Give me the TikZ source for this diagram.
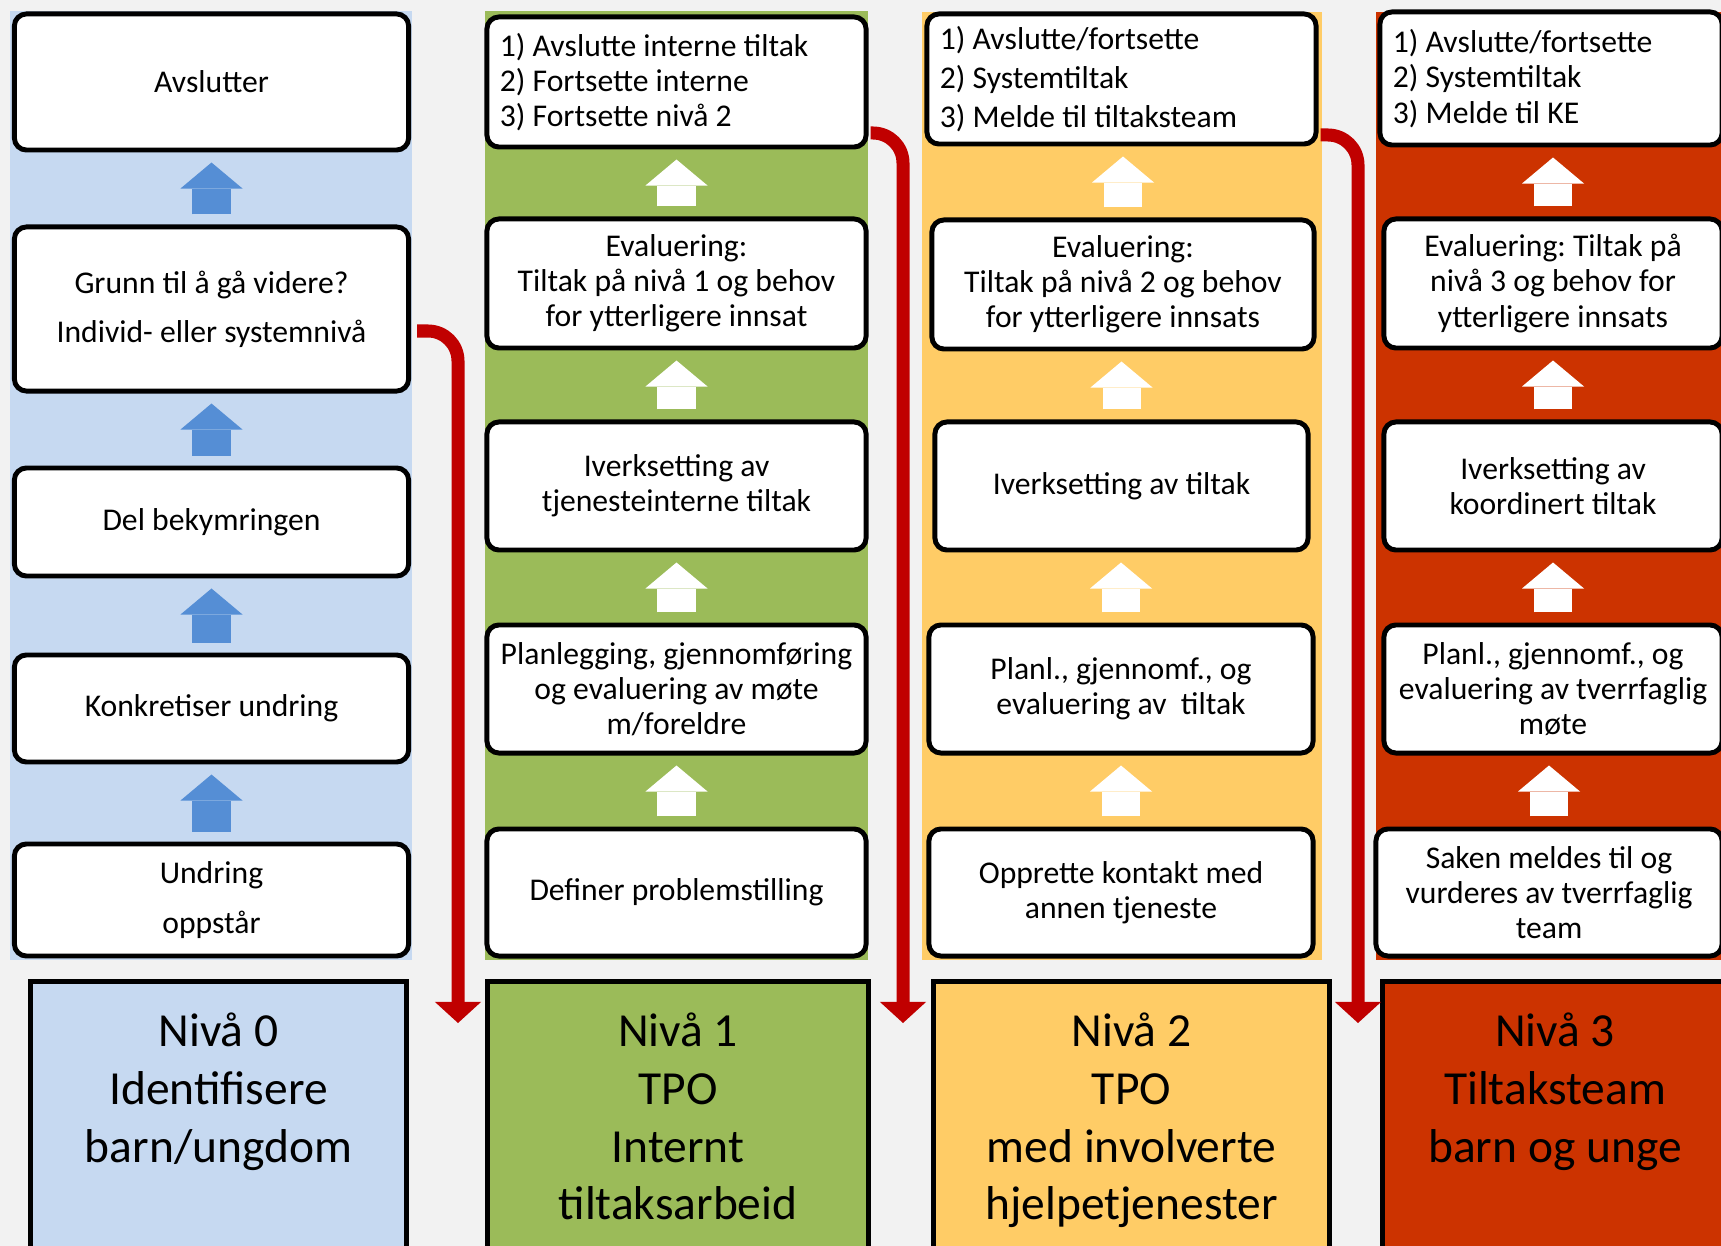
\documentclass[tikz,border=0pt]{standalone}
\usepackage{fontspec}
\setmainfont{Carlito}
\usetikzlibrary{arrows.meta,calc}
\frenchspacing

\definecolor{pagegray}{HTML}{F2F2F2}
\definecolor{stripeblue}{HTML}{C6D9F1}
\definecolor{arrowblue}{HTML}{558ED5}
\definecolor{stripegreen}{HTML}{9BBB59}
\definecolor{stripeyellow}{HTML}{FFCC66}
\definecolor{stripered}{HTML}{CC3300}
\definecolor{jumpred}{HTML}{C00000}

\tikzset{
  stepnode/.style={draw, line width=1.4pt, rounded corners=1.2mm, fill=white,
    align=center, inner sep=0pt, font=\fontsize{9}{10}\selectfont},
  listnode/.style={stepnode, align=flush left, inner xsep=1.3mm},
  levelbox/.style={draw, line width=1.4pt, minimum height=3.18cm},
  leveltxt/.style={align=center, anchor=north, inner sep=0pt,
    font=\fontsize{13.5}{16.4}\selectfont},
  uparr/.style={draw=#1, line width=3.8mm, shorten <=1mm, shorten >=1mm,
    -{Triangle[width=6.2mm,length=2.6mm,line width=0pt]}},
  jumpline/.style={draw=jumpred, line width=1.3mm, rounded corners=3mm,
    -{Triangle[width=4.6mm,length=2.1mm,line width=0pt]}}
}

\begin{document}
\begin{tikzpicture}[x=0.01cm, y=-0.01cm]
  % Page
  \fill [pagegray] (0,0) rectangle (1721,1246);
  \useasboundingbox (0,0) rectangle (1721,1246);
  \clip (0,0) rectangle (1721,1246);

  % Column stripes
  \fill [stripeblue] (10,11) rectangle (412,960);
  \fill [stripegreen] (485,11) rectangle (868,960);
  \fill [stripeyellow] (922,12) rectangle (1322,960);
  \fill [stripered] (1376,12) rectangle (1721,960);

  % Niva 0
  \node (a0) [stepnode, minimum width=3.94cm, minimum height=1.36cm] at (211.5,82) {Avslutter};
  \node (g0) [stepnode, minimum width=3.94cm, minimum height=1.64cm] at (211.5,309)
    {Grunn til å gå videre?\\[4pt]Individ- eller systemnivå};
  \node (d0) [stepnode, minimum width=3.94cm, minimum height=1.08cm] at (211.5,522) {Del bekymringen};
  \node (k0) [stepnode, minimum width=3.94cm, minimum height=1.07cm] at (211.5,708.5) {Konkretiser undring};
  \node (u0) [stepnode, minimum width=3.94cm, minimum height=1.12cm] at (211.5,900) {Undring\\[4pt]oppstår};

  % Niva 1
  \node (t1) [listnode, text width=3.53cm, minimum height=1.30cm] at (676.5,82)
    {1) Avslutte interne tiltak\\2) Fortsette interne\\3) Fortsette nivå 2};
  \node (e1) [stepnode, minimum width=3.79cm, minimum height=1.29cm] at (676.5,283.5)
    {Evaluering:\\Tiltak på nivå 1 og behov\\for ytterligere innsat};
  \node (i1) [stepnode, minimum width=3.79cm, minimum height=1.28cm] at (676.5,486)
    {Iverksetting av\\tjenesteinterne tiltak};
  \node (p1) [stepnode, minimum width=3.79cm, minimum height=1.28cm] at (676.5,689)
    {Planlegging, gjennomføring\\og evaluering av møte\\m/foreldre};
  \node (f1) [stepnode, minimum width=3.79cm, minimum height=1.27cm] at (676.5,892.5)
    {Definer problemstilling};

  % Niva 2
  \node (t2) [listnode, text width=3.63cm, minimum height=1.30cm] at (1121.5,79)
    {1) Avslutte/fortsette\\[1pt]2) Systemtiltak\\[1pt]3) Melde til tiltaksteam};
  \node (e2) [stepnode, minimum width=3.82cm, minimum height=1.29cm] at (1123,284.5)
    {Evaluering:\\Tiltak på nivå 2 og behov\\for ytterligere innsats};
  \node (i2) [stepnode, minimum width=3.73cm, minimum height=1.28cm] at (1121.5,486)
    {Iverksetting av tiltak};
  \node (p2) [stepnode, minimum width=3.84cm, minimum height=1.28cm] at (1121,689)
    {Planl., gjennomf., og\\evaluering av\ \ tiltak};
  \node (o2) [stepnode, minimum width=3.84cm, minimum height=1.27cm] at (1121,892.5)
    {Opprette kontakt med\\annen tjeneste};

  % Niva 3
  \node (t3) [listnode, text width=3.16cm, minimum height=1.33cm] at (1551,78.5)
    {1) Avslutte/fortsette\\2) Systemtiltak\\3) Melde til KE};
  \node (e3) [stepnode, minimum width=3.38cm, minimum height=1.29cm] at (1553,283.5)
    {Evaluering: Tiltak på\\nivå 3 og behov for\\ytterligere innsats};
  \node (i3) [stepnode, minimum width=3.38cm, minimum height=1.28cm] at (1553,486)
    {Iverksetting av\\koordinert tiltak};
  \node (p3) [stepnode, minimum width=3.38cm, minimum height=1.28cm] at (1553,689)
    {Planl., gjennomf., og\\evaluering av tverrfaglig\\møte};
  \node (s3) [stepnode, minimum width=3.46cm, minimum height=1.27cm] at (1549,892.5)
    {Saken meldes til og\\vurderes av tverrfaglig\\team};

  % Block arrows up each column
  \foreach \lo/\hi in {g0/a0, d0/g0, k0/d0, u0/k0}
    \draw [uparr=arrowblue] (\lo.north) -- (\lo.north |- \hi.south);
  \foreach \lo/\hi in {e1/t1, i1/e1, p1/i1, f1/p1, e2/t2, i2/e2, p2/i2, o2/p2,
                       e3/t3, i3/e3, p3/i3, s3/p3}
    \draw [uparr=white] (\lo.north) -- (\lo.north |- \hi.south);

  % Level boxes at the bottom
  \node (n0) [levelbox, fill=stripeblue, minimum width=3.76cm] at (218.5,1141) {};
  \node (n1) [levelbox, fill=stripegreen, minimum width=3.81cm] at (678,1141) {};
  \node (n2) [levelbox, fill=stripeyellow, minimum width=3.96cm] at (1131.5,1141) {};
  \node (n3) [levelbox, fill=stripered, minimum width=3.74cm] at (1570,1141) {};
  \node [leveltxt] at ($(n0.north)+(0,33)$) {Nivå 0\\Identifisere\\barn/ungdom};
  \node [leveltxt] at ($(n1.north)+(0,33)$) {Nivå 1\\TPO\\Internt\\tiltaksarbeid};
  \node [leveltxt] at ($(n2.north)+(0,33)$) {Nivå 2\\TPO\\med involverte\\hjelpetjenester};
  \node [leveltxt] at ($(n3.north)+(-15,33)$) {Nivå 3\\Tiltaksteam\\barn og unge};

  % Red jumps to the next level
  \coordinate (drop0) at (458,1023);
  \coordinate (drop1) at (903,1023);
  \coordinate (drop2) at (1358,1023);
  \draw [jumpline] ($(g0.east)+(6,22)$) -| (drop0);
  \draw [jumpline] ($(t1.east)+(2,51)$) -| (drop1);
  \draw [jumpline] ($(t2.east)+(2,56)$) -| (drop2);
\end{tikzpicture}
\end{document}
